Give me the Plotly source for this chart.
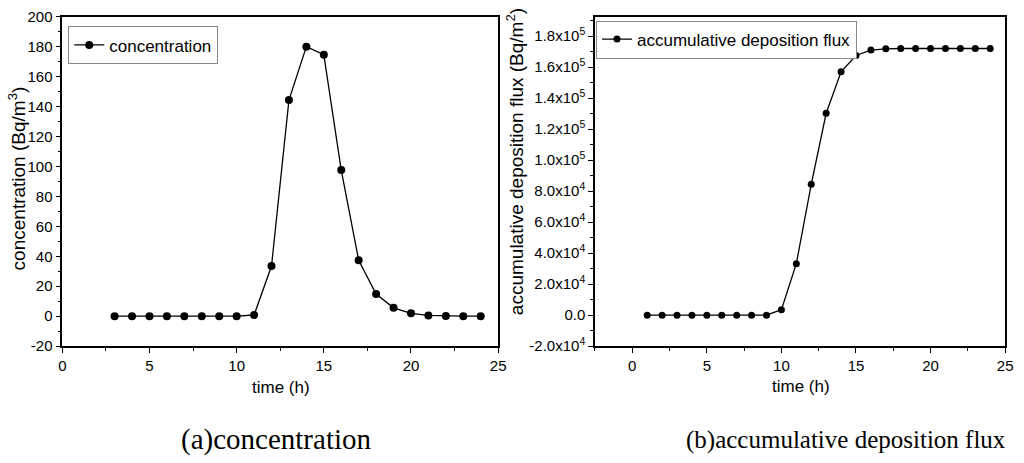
import plotly.graph_objects as go

# (a) concentration
conc_time = list(range(3, 25))
conc_vals = [0, 0, 0, 0, 0, 0, 0, 0, 0.8, 33.5, 144.3, 180, 174.6, 97.6,
             37.4, 14.8, 5.6, 1.9, 0.5, 0.1, 0, 0]
conc_tickvals = [-20, 0, 20, 40, 60, 80, 100, 120, 140, 160, 180, 200]
conc_ticktext = ["-20", "0", "20", "40", "60", "80", "100", "120", "140",
                 "160", "180", "200"]

# (b) accumulative deposition flux
dep_time = list(range(1, 25))
dep_vals = [0, 0, 0, 0, 0, 0, 0, 0, 0, 3500, 33200, 84400, 130200, 157000,
            167500, 171000, 171800, 172000, 172000, 172000, 172000, 172000,
            172000, 172000]
dep_tickvals = [-20000, 0, 20000, 40000, 60000, 80000, 100000, 120000,
                140000, 160000, 180000]
dep_ticktext = ["-2.0x10<sup>4</sup>", "0.0", "2.0x10<sup>4</sup>", "4.0x10<sup>4</sup>",
                "6.0x10<sup>4</sup>", "8.0x10<sup>4</sup>", "1.0x10<sup>5</sup>",
                "1.2x10<sup>5</sup>", "1.4x10<sup>5</sup>", "1.6x10<sup>5</sup>",
                "1.8x10<sup>5</sup>"]

W, H = 1024, 463
sans = "Liberation Sans, Arial"
tick_font = dict(family=sans, size=15, color="black")
title_font = dict(family=sans, size=17, color="black")
ytitle_font = dict(family=sans, size=19, color="black")
legend_font = dict(family=sans, size=17, color="black")
caption_font = dict(family="Liberation Serif, Times New Roman", size=29, color="black")


def px_x(v):
    return v / W


def px_y(v):
    return (H - v) / H


fig = go.Figure()
fig.add_trace(go.Scatter(x=conc_time, y=conc_vals, name="concentration",
                         mode="lines+markers",
                         line=dict(color="black", width=1.3),
                         marker=dict(color="black", size=8),
                         xaxis="x", yaxis="y", legend="legend"))
fig.add_trace(go.Scatter(x=dep_time, y=dep_vals, name="accumulative deposition flux",
                         mode="lines+markers",
                         line=dict(color="black", width=1.3),
                         marker=dict(color="black", size=7),
                         xaxis="x2", yaxis="y2", legend="legend2"))

axis_common = dict(showline=True, linecolor="black", linewidth=1.5, mirror=True,
                   ticks="outside", ticklen=5, tickcolor="black", tickwidth=1.2,
                   showgrid=False, zeroline=False, tickfont=tick_font,
                   ticklabeloverflow="allow")
minor_common = dict(ticks="outside", ticklen=3, tickcolor="black", tickwidth=1)

fig.update_layout(
    width=W, height=H,
    margin=dict(l=0, r=0, t=0, b=0),
    paper_bgcolor="white", plot_bgcolor="white",
    xaxis=dict(domain=[px_x(59), px_x(500)], range=[0, 25], dtick=5,
               minor=dict(dtick=2.5, **minor_common),
               anchor="y", **axis_common),
    yaxis=dict(domain=[px_y(350), px_y(8)], range=[-20, 200],
               tickmode="array", tickvals=conc_tickvals, ticktext=conc_ticktext,
               minor=dict(dtick=10, **minor_common),
               anchor="x", **axis_common),
    xaxis2=dict(domain=[px_x(598), px_x(1013)], range=[-2.5, 25], dtick=5,
                minor=dict(dtick=2.5, **minor_common),
                anchor="y2", **axis_common),
    yaxis2=dict(domain=[px_y(350), px_y(8)], range=[-20000, 192500],
                tickmode="array", tickvals=dep_tickvals, ticktext=dep_ticktext,
                minor=dict(dtick=10000, **minor_common),
                anchor="x2", **axis_common),
    legend=dict(x=px_x(65), y=px_y(18), xanchor="left", yanchor="top",
                bgcolor="white", bordercolor="#888888", borderwidth=1,
                font=legend_font, itemwidth=30, tracegroupgap=0),
    legend2=dict(x=px_x(599), y=px_y(12), xanchor="left", yanchor="top",
                 bgcolor="white", bordercolor="#888888", borderwidth=1,
                 font=legend_font, itemwidth=30, tracegroupgap=0),
    showlegend=True,
)

# axis titles
fig.add_annotation(text="time (h)", x=px_x(280), y=px_y(393), xref="paper", yref="paper",
                   showarrow=False, font=title_font, xanchor="center", yanchor="middle")
fig.add_annotation(text="time (h)", x=px_x(806), y=px_y(392), xref="paper", yref="paper",
                   showarrow=False, font=title_font, xanchor="center", yanchor="middle")
fig.add_annotation(text="concentration (Bq/m<sup>3</sup>)", x=px_x(13), y=px_y(176),
                   xref="paper", yref="paper", showarrow=False, font=ytitle_font,
                   textangle=-90, xanchor="center", yanchor="middle")
fig.add_annotation(text="accumulative deposition flux (Bq/m<sup>2</sup>)", x=px_x(517),
                   y=px_y(158), xref="paper", yref="paper", showarrow=False,
                   font=ytitle_font, textangle=-90, xanchor="center", yanchor="middle")

# panel captions
fig.add_annotation(text="(a)concentration", x=px_x(276), y=px_y(447),
                   xref="paper", yref="paper", showarrow=False, font=caption_font,
                   xanchor="center", yanchor="middle")
fig.add_annotation(text="(b)accumulative deposition flux", x=px_x(852), y=px_y(447),
                   xref="paper", yref="paper", showarrow=False,
                   font=dict(caption_font, size=25),
                   xanchor="center", yanchor="middle")

# figure sits flush at the window's top-left corner, no scrollbars
page_css = ("document.documentElement.style.margin = '0';"
            "document.documentElement.style.overflow = 'hidden';"
            "document.body.style.margin = '0';"
            "document.body.style.padding = '0';"
            "document.body.style.overflow = 'hidden';")
fig.write_html("out.html", post_script=page_css, config={"displayModeBar": False})
